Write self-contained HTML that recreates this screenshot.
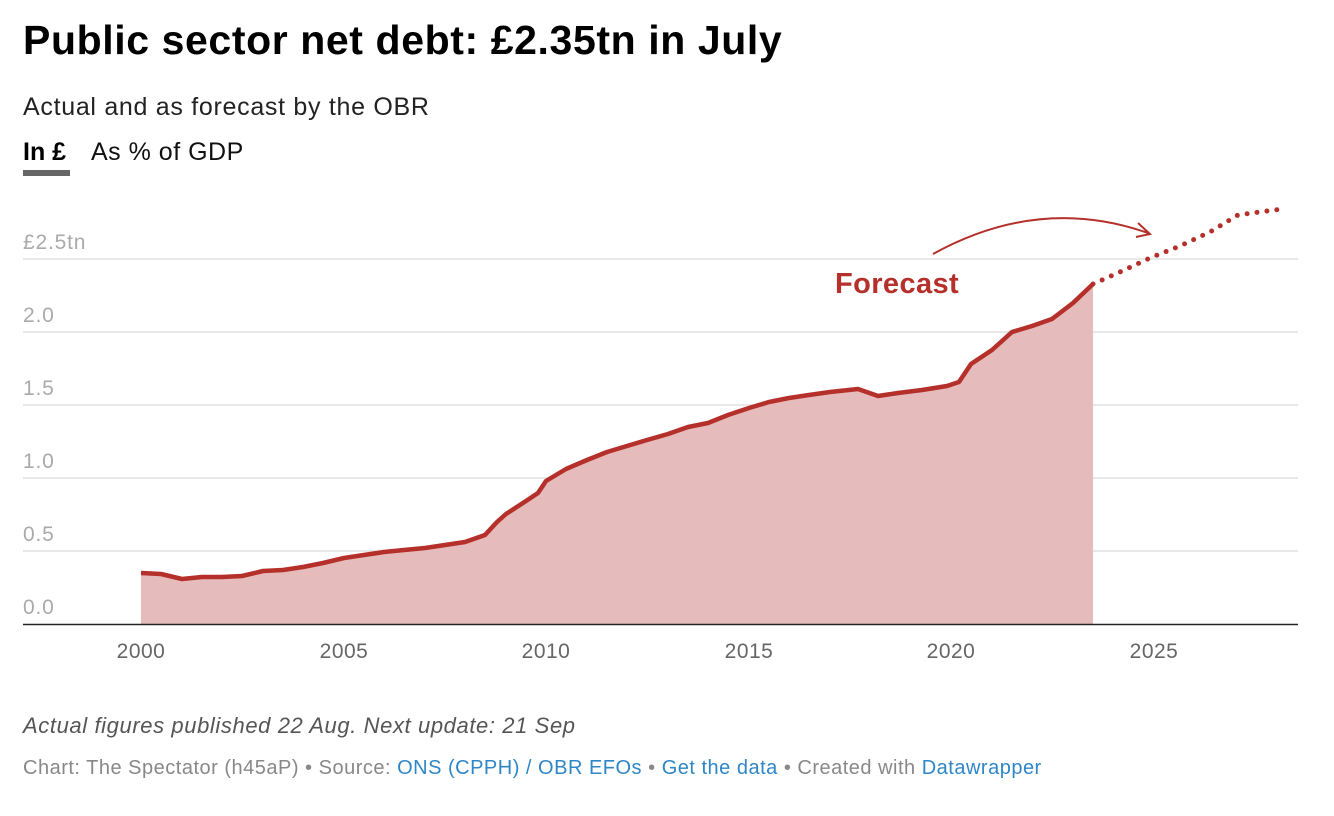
<!DOCTYPE html>
<html><head><meta charset="utf-8"><style>
body{margin:0;width:1334px;height:816px;background:#fff;font-family:"Liberation Sans",sans-serif;position:relative;overflow:hidden}
.t{position:absolute;left:23px;top:17px;font-size:41px;font-weight:bold;color:#000;letter-spacing:0.6px}
.s{position:absolute;left:23px;top:93px;font-size:25px;color:#222;letter-spacing:0.7px}
.tab1{position:absolute;left:23px;top:138px;font-size:25px;font-weight:bold;color:#000}
.bar{position:absolute;left:23px;top:170px;width:47px;height:6px;background:#666}
.tab2{position:absolute;left:91px;top:138px;font-size:25px;color:#111;letter-spacing:0.5px}
.n{position:absolute;left:23px;top:713px;font-size:22px;font-style:italic;color:#555;letter-spacing:0.6px}
.f{position:absolute;left:23px;top:757px;font-size:20px;color:#888;letter-spacing:0.5px}
.f a{color:#2f86c7;text-decoration:none}
</style></head><body>
<div class="t">Public sector net debt: £2.35tn in July</div>
<div class="s">Actual and as forecast by the OBR</div>
<div class="tab1">In £</div><div class="bar"></div>
<div class="tab2">As % of GDP</div>
<svg width="1334" height="816" style="position:absolute;left:0;top:0">
<g stroke="#e0e0e0" stroke-width="1.5">
<line x1="23" y1="259" x2="1298" y2="259"/><line x1="23" y1="332" x2="1298" y2="332"/>
<line x1="23" y1="405" x2="1298" y2="405"/><line x1="23" y1="478" x2="1298" y2="478"/>
<line x1="23" y1="551" x2="1298" y2="551"/></g>
<g font-size="21" fill="#aaa" font-family="Liberation Sans, sans-serif" letter-spacing="0.8">
<text x="23" y="249">£2.5tn</text><text x="23" y="322">2.0</text><text x="23" y="395">1.5</text>
<text x="23" y="468">1.0</text><text x="23" y="541">0.5</text><text x="23" y="614">0.0</text></g>
<polygon fill="#e5bcbb" points="141,624 141,573 161,574 182,579 202,577 222,577 242,576 263,571 283,570 303,567 323,563 344,558 364,555 384,552 404,550 425,548 445,545 465,542 485,535 497,522 506,514 526,501 538,493 546,481 566,469 587,460 607,452 627,446 647,440 668,434 688,427 708,423 728,415 749,408 769,402 789,398 809,395 830,392 858,389 878,396 898,393 922,390 947,386 959,382 971,364 992,350 1012,332 1032,326 1052,319 1073,303 1093,284 1093,624"/>
<polyline fill="none" stroke="#b5302a" stroke-width="4.5" stroke-linejoin="round" points="141,573 161,574 182,579 202,577 222,577 242,576 263,571 283,570 303,567 323,563 344,558 364,555 384,552 404,550 425,548 445,545 465,542 485,535 497,522 506,514 526,501 538,493 546,481 566,469 587,460 607,452 627,446 647,440 668,434 688,427 708,423 728,415 749,408 769,402 789,398 809,395 830,392 858,389 878,396 898,393 922,390 947,386 959,382 971,364 992,350 1012,332 1032,326 1052,319 1073,303 1093,284"/>
<path d="M1093,284 L1120,272 L1150,258 L1180,246 L1210,232 L1238,215 L1282,209" fill="none" stroke="#b5302a" stroke-width="5" stroke-linecap="round" stroke-dasharray="0 10"/>
<path d="M933,254 Q1040,195 1148,233" fill="none" stroke="#b5302a" stroke-width="2"/>
<path d="M1138,223 L1150,234 L1136,237" fill="none" stroke="#b5302a" stroke-width="2"/>
<text x="835" y="293" font-size="29" font-weight="bold" fill="#b5302a" font-family="Liberation Sans, sans-serif" letter-spacing="0.4">Forecast</text>
<line x1="23" y1="624.5" x2="1298" y2="624.5" stroke="#222" stroke-width="1.5"/>
<g font-size="21" fill="#666" text-anchor="middle" font-family="Liberation Sans, sans-serif" letter-spacing="0.5">
<text x="141" y="658">2000</text><text x="344" y="658">2005</text><text x="546" y="658">2010</text>
<text x="749" y="658">2015</text><text x="951" y="658">2020</text><text x="1154" y="658">2025</text></g>
</svg>
<div class="n">Actual figures published 22 Aug. Next update: 21 Sep</div>
<div class="f">Chart: The Spectator (h45aP) • Source: <a>ONS (CPPH) / OBR EFOs</a> • <a>Get the data</a> • Created with <a>Datawrapper</a></div>
</body></html>
